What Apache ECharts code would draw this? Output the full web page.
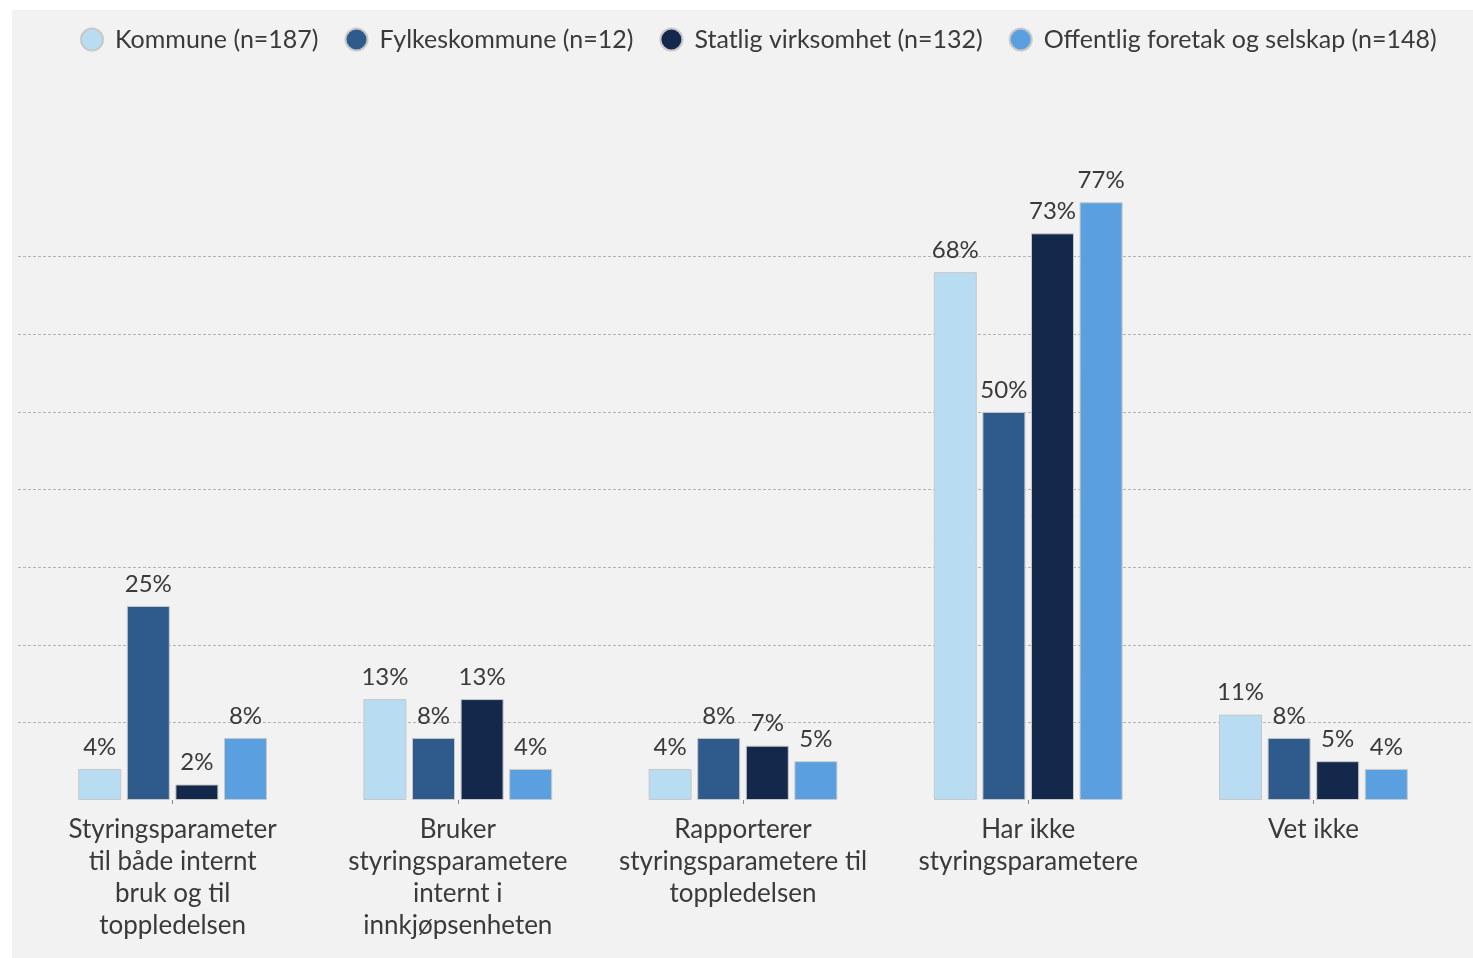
<!DOCTYPE html>
<html>
<head>
<meta charset="utf-8">
<script src="https://cdn.jsdelivr.net/npm/echarts@6/dist/echarts.min.js"></script>
<style>
html,body{margin:0;padding:0;background:#ffffff;}
#chart{width:1473px;height:958px;}
</style>
</head>
<body>
<div id="chart"></div>
<script>
var categories = [
  "Styringsparameter\ntil både internt\nbruk og til\ntoppledelsen",
  "Bruker\nstyringsparametere\ninternt i\ninnkjøpsenheten",
  "Rapporterer\nstyringsparametere til\ntoppledelsen",
  "Har ikke\nstyringsparametere",
  "Vet ikke"
];
var seriesNames = ["Kommune (n=187)", "Fylkeskommune (n=12)", "Statlig virksomhet (n=132)", "Offentlig foretak og selskap (n=148)"];
var kommune = [4, 13, 4, 68, 11];
var fylkeskommune = [25, 8, 8, 50, 8];
var statlig = [2, 13, 7, 73, 5];
var offentlig = [8, 4, 5, 77, 4];
var colors = ["#b8dcf2", "#2e5a8c", "#14284b", "#5a9fdf"];

var FONT = "Lato";
var values = [kommune, fylkeskommune, statlig, offentlig];

var chart = echarts.init(document.getElementById('chart'));
var series = values.map(function (arr, i) {
  return {
    name: seriesNames[i],
    type: 'bar',
    xAxisIndex: 0,
    yAxisIndex: 0,
    data: arr,
    barWidth: 43,
    barGap: '13%',
    itemStyle: { color: colors[i], borderColor: '#c8c8c8', borderWidth: 1 },
    label: {
      show: true,
      position: 'top',
      distance: 10,
      formatter: '{c}%',
      color: '#3a3a3a',
      fontFamily: FONT,
      fontSize: 24
    }
  };
});

chart.setOption({
  backgroundColor: 'transparent',
  animation: false,
  graphic: [{
    type: 'rect',
    z: -10,
    shape: { x: 12, y: 10, width: 1461, height: 948 },
    style: { fill: '#f2f2f2' }
  }],
  legend: {
    top: 22,
    left: 75,
    itemWidth: 22,
    itemHeight: 22,
    itemGap: 26,
    icon: 'circle',
    textStyle: { color: '#3a3a3a', fontFamily: FONT, fontSize: 25, padding: [0, 0, 0, 7] },
    data: seriesNames
  },
  grid: [
    { left: 30, right: 17, top: 179, bottom: 158 },
    { left: 18, right: 0, top: 179, bottom: 158 }
  ],
  xAxis: [
    {
      type: 'category',
      gridIndex: 0,
      data: categories,
      axisLine: { show: false },
      axisTick: { show: true, alignWithLabel: true, length: 4, lineStyle: { color: '#888' } },
      axisLabel: {
        color: '#3a3a3a',
        fontFamily: FONT,
        fontSize: 26,
        lineHeight: 32,
        margin: 14,
        interval: 0
      }
    },
    {
      type: 'category',
      gridIndex: 1,
      data: categories,
      show: false
    }
  ],
  yAxis: [
    {
      type: 'value',
      gridIndex: 0,
      min: 0, max: 80, interval: 10,
      axisLine: { show: false }, axisTick: { show: false }, axisLabel: { show: false },
      splitLine: { show: false }
    },
    {
      type: 'value',
      gridIndex: 1,
      min: 0, max: 80, interval: 10,
      axisLine: { show: false }, axisTick: { show: false }, axisLabel: { show: false },
      splitLine: { show: true, showMinLine: false, showMaxLine: false, lineStyle: { color: '#b4b4b4', type: [3, 2], width: 1 } }
    }
  ],
  series: series
});
</script>
</body>
</html>
